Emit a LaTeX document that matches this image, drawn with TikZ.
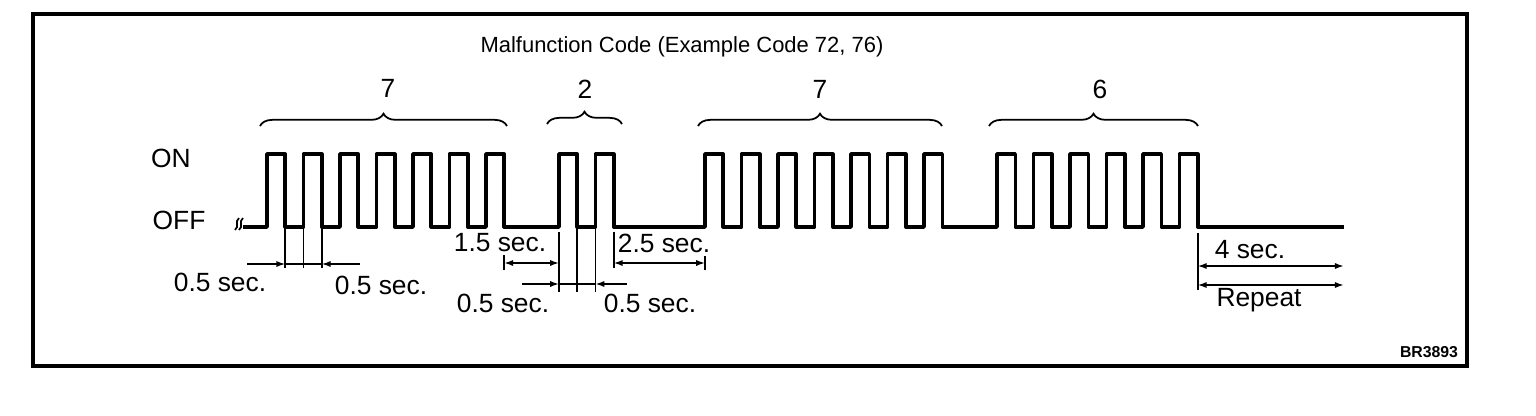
\documentclass[tikz,border=0pt]{standalone}
\usepackage{fontspec}
\setmainfont{Liberation Sans}
\usetikzlibrary{arrows.meta,decorations.pathreplacing}
\definecolor{ink}{HTML}{000000}

\begin{document}
\begin{tikzpicture}[x=0.02cm,y=-0.02cm,font=\fontsize{15}{18}\selectfont,text=ink,
    wave/.style={ink,line width=2pt,line join=round},
    dimline/.style={ink,line width=0.9pt},
    dimtip/.style={dimline,-{Latex[length=5pt,width=3.5pt]}},
    dimboth/.style={dimline,{Latex[length=5pt,width=3.5pt]}-{Latex[length=5pt,width=3.5pt]}},
    groupbrace/.style={ink,line width=1pt,decorate,decoration={brace,amplitude=7pt}}]
  \useasboundingbox (0,0) rectangle (1536,416);
  \draw[ink,line width=2pt] (33,14) rectangle (1467,366);

  \node[font=\fontsize{12.5}{15}\selectfont] (title) at (682,47)
    {Malfunction Code (Example Code 72, 76)};
  \node (on) at (171,158) {ON};
  \node (off) at (179,220) {OFF};

  % break mark and signal
  \draw[ink,line width=1pt] (235,230) .. controls (240,226) and (234,222) .. (239,218);
  \draw[ink,line width=1pt] (239,230) .. controls (244,226) and (238,222) .. (243,218);
  \draw[wave] (243,227) -- (267,227)
    \foreach \n in {1,...,7} { -- ++(0,-73) -- ++(18.25,0) -- ++(0,73) -- ++(18.25,0) }
    -- ++(36.5,0)
    \foreach \n in {1,2} { -- ++(0,-73) -- ++(18.25,0) -- ++(0,73) -- ++(18.25,0) }
    -- ++(73,0)
    \foreach \n in {1,...,7} { -- ++(0,-73) -- ++(18.25,0) -- ++(0,73) -- ++(18.25,0) }
    -- ++(36.5,0)
    \foreach \n in {1,...,6} { -- ++(0,-73) -- ++(18.25,0) -- ++(0,73) -- ++(18.25,0) }
    -- ++(127.75,0);

  % digit groups
  \draw[groupbrace] (260,126) -- (507,126);
  \draw[groupbrace] (547,124) -- (622,124);
  \draw[groupbrace] (698,126) -- (942,126);
  \draw[groupbrace] (989,126) -- (1198,126);
  \node (tens1) at (388,88) {7};
  \node (ones1) at (585,89) {2};
  \node (tens2) at (820,89) {7};
  \node (ones2) at (1100,89) {6};

  % pulse widths, first group
  \coordinate (pl) at (247,264);
  \coordinate (pa) at (285.25,264);
  \coordinate (pb) at (303.5,264);
  \coordinate (pc) at (321.75,264);
  \coordinate (pr) at (360,264);
  \foreach \c in {pa,pb,pc} \draw[dimline] (\c) ++(0,-37) -- ++(0,41);
  \draw[dimtip] (pl) -- (pa);
  \draw[dimtip] (pr) -- (pc);
  \draw[dimline] (pa) -- (pc);
  \node (plow) at (220,282) {0.5 sec.};
  \node (phigh) at (381,285) {0.5 sec.};

  % pulse widths, second group
  \coordinate (ql) at (522,284);
  \coordinate (qa) at (559,284);
  \coordinate (qb) at (577.25,284);
  \coordinate (qc) at (595.5,284);
  \coordinate (qr) at (627,284);
  \draw[dimline] (qa) ++(0,-52) -- ++(0,60);
  \foreach \c in {qb,qc} \draw[dimline] (\c) ++(0,-57) -- ++(0,65);
  \draw[dimtip] (ql) -- (qa);
  \draw[dimtip] (qr) -- (qc);
  \draw[dimline] (qa) -- (qc);
  \node (qhigh) at (503,303) {0.5 sec.};
  \node (qlow) at (650,303) {0.5 sec.};

  % pauses
  \coordinate (ga) at (504.25,263);
  \coordinate (gb) at (559,263);
  \coordinate (gc) at (613.75,263);
  \coordinate (gd) at (705,263);
  \draw[dimline] (ga) ++(0,-8) -- ++(0,15);
  \draw[dimline] (gc) ++(0,-31) -- ++(0,36);
  \draw[dimline] (gd) ++(0,-7) -- ++(0,14);
  \draw[dimboth] (ga) -- (gb);
  \draw[dimboth] (gc) -- (gd);
  \node (short) at (500,243) {1.5 sec.};
  \node (long) at (664,243) {2.5 sec.};

  % repeat
  \coordinate (ra) at (1197.75,266);
  \coordinate (rb) at (1343.75,266);
  \coordinate (rc) at (1197.75,285);
  \coordinate (rd) at (1343.75,285);
  \draw[dimline] (ra) ++(0,-33) -- ++(0,57);
  \draw[dimboth] (ra) -- (rb);
  \draw[dimboth] (rc) -- (rd);
  \node (pause) at (1250,250) {4 sec.};
  \node (again) at (1259,300) {Repeat};

  \node[font=\bfseries\fontsize{9}{11}\selectfont] (figno) at (1429,352) {BR3893};
\end{tikzpicture}
\end{document}
